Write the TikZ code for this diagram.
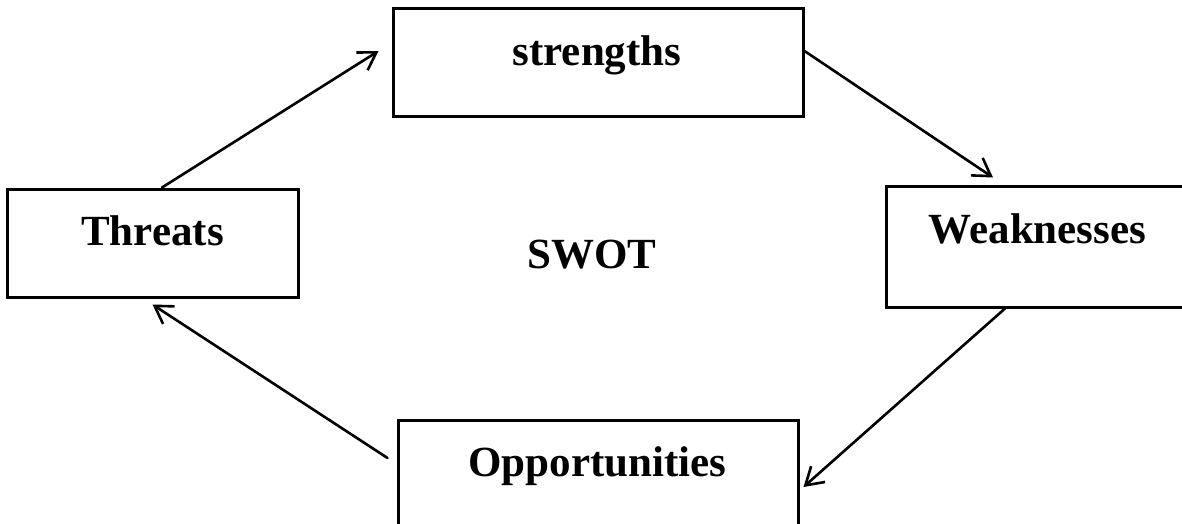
\documentclass[tikz,border=0pt]{standalone}
\usepackage{fontspec}
\setmainfont{Liberation Serif}
\usetikzlibrary{arrows.meta}
\tikzset{
  box/.style={draw=black, line width=3pt, rectangle, inner sep=0pt},
  lab/.style={anchor=base, font=\fontsize{43}{50}\selectfont\bfseries, inner sep=0pt},
  conn/.style={line width=2.6pt, line cap=round, -{Straight Barb[length=17pt,width=21pt,line width=2.6pt]}}
}
\begin{document}
\begin{tikzpicture}[x=1pt,y=-1pt]
\clip (0,0) rectangle (1182,523);
\fill[white] (0,0) rectangle (1182,523);
% boxes
\node[box, minimum width=410pt, minimum height=108pt] (S) at (598,62) {};
\node[box, minimum width=310pt, minimum height=121pt] (W) at (1041,246.5) {};
\node[box, minimum width=291pt, minimum height=108pt] (T) at (152.5,243) {};
\node[box, minimum width=400pt, minimum height=140pt] (O) at (598,490) {};
% labels
\node[lab] (Slab) at (597,65) {strengths};
\node[lab] (Wlab) at (1037.5,243) {Weaknesses};
\node[lab] (Tlab) at (152.5,245) {Threats};
\node[lab] (Olab) at (597.5,476) {Opportunities};
\node[lab] (swot) at (592,268) {SWOT};
% connectors
\coordinate (a1) at ([xshift=9.5pt]T.north);
\coordinate (a1e) at ([xshift=-13pt,yshift=11pt]S.west);
\coordinate (a2) at ([yshift=11pt]S.east);
\coordinate (a2e) at ([xshift=-48pt,yshift=7pt]W.north);
\coordinate (a3) at ([xshift=-36pt]W.south);
\coordinate (a3e) at ([xshift=4pt,yshift=3pt]O.east);
\coordinate (a4) at ([xshift=-9pt,yshift=32pt]O.west);
\coordinate (a4e) at ([yshift=-6pt]T.south);
\draw[conn] (a1) -- (a1e);
\draw[conn] (a2) -- (a2e);
\draw[conn] (a3) -- (a3e);
\draw[conn] (a4) -- (a4e);
\end{tikzpicture}
\end{document}
